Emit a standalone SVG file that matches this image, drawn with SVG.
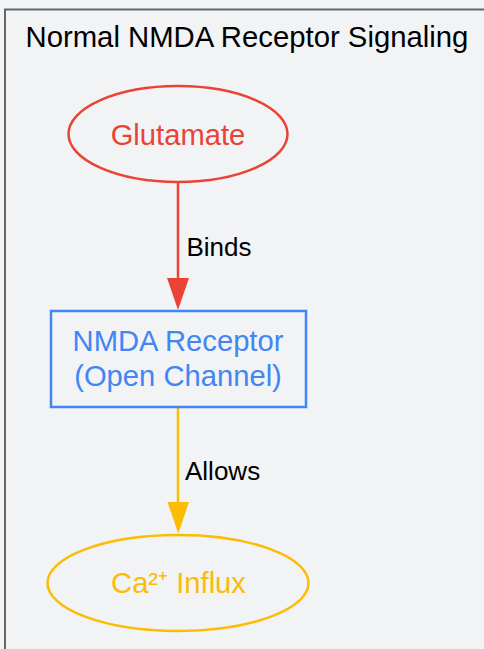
<svg xmlns="http://www.w3.org/2000/svg" width="484" height="649" viewBox="0 0 484 649">
<defs>
<style>
text{font-family:"Liberation Sans",Arial,sans-serif;}
.title{font-size:29.3px;fill:#000;}
.node{font-size:29.2px;text-anchor:middle;}
.lbl{font-size:26px;fill:#000;}
</style>
</defs>
<rect x="0" y="0" width="484" height="649" fill="#f1f3f5"/>
<g id="frame">
<rect x="5" y="9.5" width="520" height="700" fill="#f1f3f5" stroke="#666" stroke-width="2"/>
<text class="title" x="25.5" y="46.5">Normal NMDA Receptor Signaling</text>
</g>
<g id="connectors">
<line x1="178" y1="182" x2="178" y2="279" stroke="#ea4335" stroke-width="2.5"/>
<path d="M167,278 L189,278 L178,310 Z" fill="#ea4335"/>
<text class="lbl" x="186.5" y="255.5">Binds</text>
<line x1="178" y1="407" x2="178" y2="503" stroke="#fbbc04" stroke-width="2.5"/>
<path d="M167.5,502 L189,502 L178.3,533.5 Z" fill="#fbbc04"/>
<text class="lbl" x="185" y="480">Allows</text>
</g>
<g id="glutamate">
<ellipse cx="178" cy="134" rx="109.5" ry="48" fill="none" stroke="#ea4335" stroke-width="2.5"/>
<text class="node" x="178" y="145" fill="#ea4335">Glutamate</text>
</g>
<g id="nmda">
<rect x="51" y="311" width="255" height="96" fill="none" stroke="#4285f4" stroke-width="2.5"/>
<text class="node" x="178" y="351" fill="#4285f4">NMDA Receptor</text>
<text class="node" x="178" y="386" fill="#4285f4">(Open Channel)</text>
</g>
<g id="calcium">
<ellipse cx="178" cy="583" rx="130.5" ry="48" fill="none" stroke="#fbbc04" stroke-width="2.5"/>
<text class="node" x="178.5" y="593" fill="#fbbc04">Ca²⁺ Influx</text>
</g>
</svg>
